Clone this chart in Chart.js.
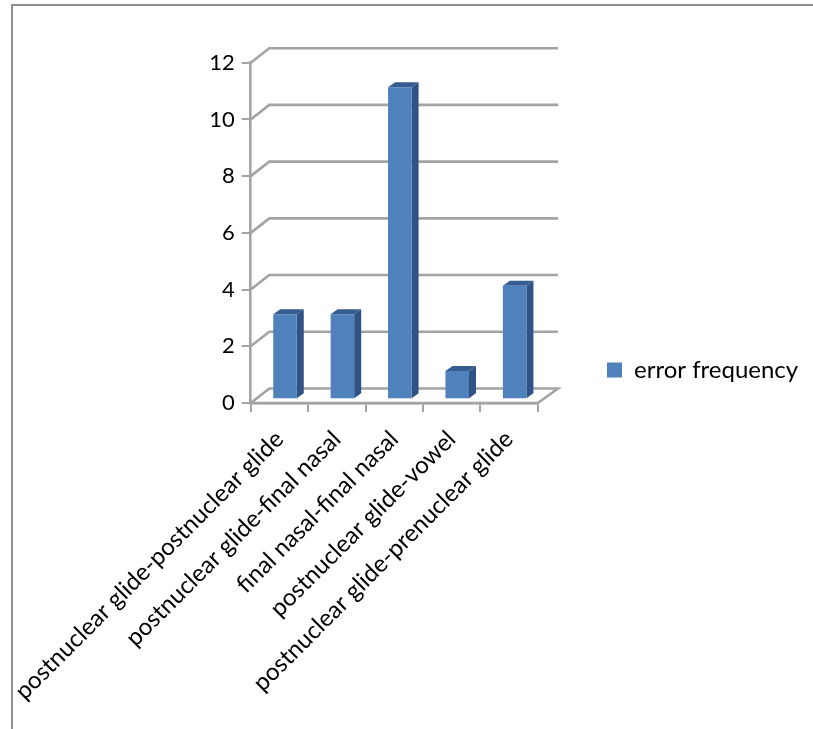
<!DOCTYPE html>
<html>
<head>
<meta charset="utf-8">
<style>
html,body{margin:0;padding:0;background:#fff}
#wrap{width:813px;height:729px}
</style>
<script src="https://cdn.jsdelivr.net/npm/chart.js@4"></script>
</head>
<body>
<div id="wrap"><canvas id="c" width="813" height="729"></canvas></div>
<script>
const categories=['postnuclear glide-postnuclear glide','postnuclear glide-final nasal','final nasal-final nasal','postnuclear glide-vowel','postnuclear glide-prenuclear glide'];
const errorFrequency=[3,3,11,1,4];
const yTicks=[0,2,4,6,8,10,12];

const seriesName='error frequency';
const fontName='Lato, Carlito, Calibri, sans-serif';
const gridColor='#a3a3a3';
// how far the back wall and the bars sit from the front axes
const backDx=18.6,backDy=-14.5,backRight=558;
const barDx=5.6,barDy=-3.7,depthX=7,depthY=-5;

const fake3d={
  id:'fake3d',
  beforeDraw(chart){
    const ctx=chart.ctx;
    ctx.save();
    ctx.strokeStyle='#8f8f8f';
    ctx.lineWidth=2;
    ctx.beginPath();
    ctx.moveTo(12,729);ctx.lineTo(12,5);ctx.lineTo(813,5);
    ctx.stroke();
    ctx.restore();
  },
  afterLayout(chart){
    // keep the legend next to the plot, not against the right edge
    const l=chart.legend;
    l.left=597;l.right=813;l.top=348;l.bottom=392;
  },
  beforeDatasetsDraw(chart){
    const ctx=chart.ctx,y=chart.scales.y,a=chart.chartArea;
    ctx.save();
    ctx.strokeStyle=gridColor;
    ctx.lineWidth=2.6;
    yTicks.forEach(v=>{
      const py=y.getPixelForValue(v);
      ctx.beginPath();
      ctx.moveTo(a.left,py);
      ctx.lineTo(a.left+backDx,py+backDy);
      ctx.lineTo(backRight,py+backDy);
      if(v===0){ctx.lineTo(a.right,py);ctx.lineTo(a.left,py);}
      ctx.stroke();
    });
    ctx.restore();
    // side and top faces of the bars
    ctx.save();
    ctx.translate(barDx,barDy);
    chart.getDatasetMeta(0).data.forEach(b=>{
      const p=b.getProps(['x','y','base','width'],true);
      const l=p.x-p.width/2,r=p.x+p.width/2;
      ctx.fillStyle='#2f5384';
      ctx.beginPath();
      ctx.moveTo(r,p.y);ctx.lineTo(r+depthX,p.y+depthY);ctx.lineTo(r+depthX,p.base+depthY);ctx.lineTo(r,p.base);
      ctx.closePath();ctx.fill();
      ctx.fillStyle='#355d90';
      ctx.beginPath();
      ctx.moveTo(l,p.y);ctx.lineTo(l+depthX,p.y+depthY);ctx.lineTo(r+depthX,p.y+depthY);ctx.lineTo(r,p.y);
      ctx.closePath();ctx.fill();
    });
  },
  afterDatasetsDraw(chart){
    chart.ctx.restore();
  }
};

new Chart(document.getElementById('c'),{
  type:'bar',
  data:{labels:categories,datasets:[{label:seriesName,data:errorFrequency,backgroundColor:'#4f81bd',borderWidth:0,barPercentage:0.41,categoryPercentage:1}]},
  plugins:[fake3d],
  options:{
    responsive:false,
    animation:false,
    layout:{padding:{left:0,top:62.7,right:96,bottom:6}},
    plugins:{
      tooltip:{enabled:false},
      title:{display:false},
      legend:{
        position:'right',
        align:'start',
        labels:{boxWidth:15,boxHeight:15,padding:10,color:'#000',font:{family:fontName,size:24}}
      }
    },
    scales:{
      x:{
        grid:{drawOnChartArea:false,drawTicks:true,tickLength:9,color:gridColor,lineWidth:2},
        border:{color:gridColor,width:2.6},
        ticks:{autoSkip:false,minRotation:45,maxRotation:45,padding:13,labelOffset:0,color:'#000',font:{family:fontName,size:24}},
        afterFit(s){s.height=320;s.paddingLeft=0;s.paddingRight=0;}
      },
      y:{
        min:0,max:12,
        afterBuildTicks(s){s.ticks=yTicks.map(v=>({value:v}));},
        grid:{drawOnChartArea:false,drawTicks:true,tickLength:9,color:gridColor,lineWidth:2},
        border:{color:gridColor,width:2.6},
        ticks:{padding:7,color:'#000',font:{family:fontName,size:22}},
        afterFit(s){s.width=250.7;}
      }
    }
  }
});
</script>
</body>
</html>
